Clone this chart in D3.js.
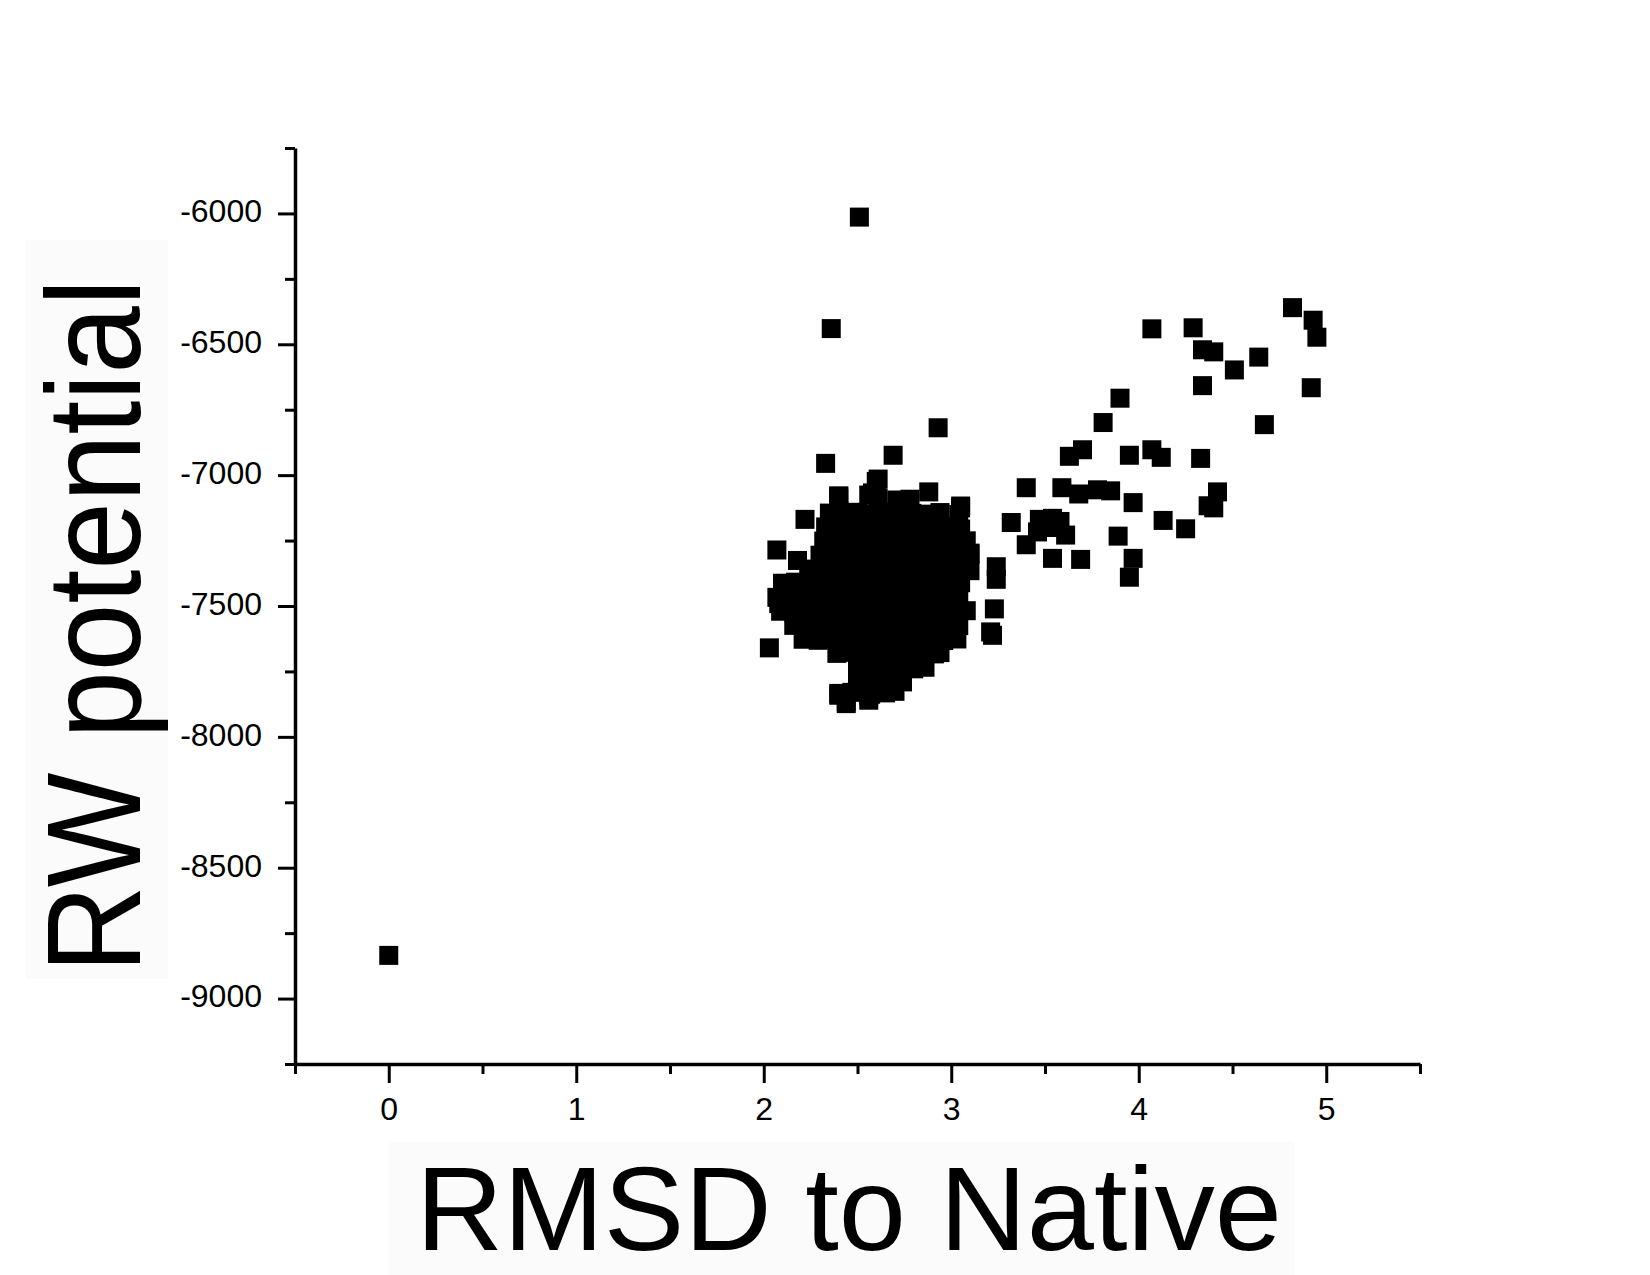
<!DOCTYPE html>
<html>
<head>
<meta charset="utf-8">
<script src="https://cdn.jsdelivr.net/npm/d3@7"></script>
<style>
  html, body { margin: 0; padding: 0; background: #fff; }
  svg { display: block; }
</style>
</head>
<body>
<svg id="chart" width="1650" height="1275"></svg>
<script>
// ---- Data ----
const xTicksMajor = [0, 1, 2, 3, 4, 5];
const xTicksMinor = [-0.5, 0.5, 1.5, 2.5, 3.5, 4.5, 5.5];
const yTicksMajor = [-9000, -8500, -8000, -7500, -7000, -6500, -6000];
const yTicksMinor = [-9250, -8750, -8250, -7750, -7250, -6750, -6250, -5750];
const xTitle = "RMSD to Native";
const yTitle = "RW potential";

// native structure
const nativeRmsd = [0.0];
const nativeRw = [-8835];

// outliers and spread decoys
const spreadRmsd = [2.51, 2.36, 2.93, 4.82, 4.93, 4.95, 4.92, 4.29, 4.07, 4.34, 4.40, 4.51, 4.64, 4.34, 4.67,
  3.90, 3.81, 3.70, 3.63, 3.95, 4.07, 4.12, 4.33, 3.40, 3.59, 3.68, 3.78, 3.85, 3.97, 4.42, 4.37, 4.40,
  3.32, 3.47, 3.54, 3.58, 3.46, 3.61, 3.40, 4.13, 4.25, 3.89, 3.54, 3.69, 3.97, 3.95, 3.24, 3.24, 3.23,
  3.21, 3.22, 3.52];
const spreadRw = [-6014, -6440, -6819, -6360, -6408, -6473, -6666, -6437, -6441, -6521, -6529, -6598, -6549, -6658, -6807,
  -6706, -6799, -6903, -6928, -6924, -6903, -6932, -6936, -7048, -7048, -7072, -7056, -7060, -7105, -7064, -7117, -7125,
  -7181, -7169, -7165, -7177, -7217, -7229, -7266, -7173, -7205, -7233, -7318, -7322, -7318, -7390, -7350, -7398, -7511,
  -7599, -7612, -7200];

// cluster edge decoys
const edgeRmsd = [2.33, 2.69, 2.60, 2.56, 2.40, 2.40, 2.22, 2.07, 2.18, 2.10, 2.08, 2.03, 2.88, 3.05, 3.10,
  2.40, 2.44, 2.56, 2.61, 2.58, 2.40];
const edgeRw = [-6955, -6924, -7024, -7076, -7080, -7137, -7169, -7286, -7326, -7447, -7491, -7660, -7064, -7125, -7298,
  -7841, -7873, -7841, -7015, -7068, -7080];

// dense cluster decoys
const clusterRmsd = [
  2.40, 2.61, 2.71, 2.78, 3.05,
  2.35, 2.42, 2.50, 2.57, 2.64, 2.72, 2.79, 2.87, 2.94, 3.04,
  2.33, 2.40, 2.48, 2.55, 2.63, 2.70, 2.78, 2.85, 2.93, 3.00, 3.05,
  2.32, 2.40, 2.47, 2.55, 2.62, 2.70, 2.77, 2.85, 2.92, 3.00, 3.08,
  2.30, 2.37, 2.45, 2.52, 2.60, 2.67, 2.75, 2.82, 2.90, 2.97, 3.04, 3.10,
  2.24, 2.31, 2.39, 2.46, 2.54, 2.61, 2.69, 2.76, 2.84, 2.91, 2.99, 3.06, 3.10,
  2.10, 2.17, 2.25, 2.32, 2.40, 2.47, 2.55, 2.62, 2.70, 2.77, 2.85, 2.92, 3.00, 3.05,
  2.07, 2.14, 2.22, 2.29, 2.37, 2.44, 2.52, 2.59, 2.67, 2.74, 2.82, 2.89, 2.97, 3.04,
  2.09, 2.16, 2.24, 2.31, 2.39, 2.46, 2.54, 2.61, 2.69, 2.76, 2.84, 2.91, 2.99, 3.08,
  2.16, 2.23, 2.31, 2.38, 2.46, 2.53, 2.61, 2.68, 2.76, 2.83, 2.91, 2.98, 3.04,
  2.21, 2.29, 2.36, 2.44, 2.51, 2.59, 2.66, 2.74, 2.81, 2.89, 2.96, 3.03,
  2.39, 2.46, 2.54, 2.61, 2.69, 2.76, 2.84, 2.91, 2.94,
  2.50, 2.57, 2.65, 2.72, 2.80, 2.86,
  2.50, 2.58, 2.66, 2.74,
  2.40, 2.47, 2.57, 2.65, 2.70,
  2.44, 2.56
];
const clusterRw = [
  -7091, -7088, -7095, -7092, -7118,
  -7145, -7150, -7142, -7148, -7140, -7152, -7146, -7149, -7143, -7151,
  -7198, -7203, -7195, -7200, -7196, -7204, -7199, -7193, -7201, -7197, -7206,
  -7252, -7248, -7255, -7250, -7257, -7251, -7246, -7253, -7249, -7256, -7251,
  -7306, -7302, -7309, -7304, -7311, -7305, -7300, -7308, -7303, -7310, -7306, -7302,
  -7359, -7364, -7356, -7361, -7358, -7363, -7355, -7360, -7357, -7362, -7359, -7354, -7365,
  -7413, -7409, -7416, -7411, -7418, -7412, -7408, -7415, -7410, -7417, -7413, -7407, -7414, -7411,
  -7467, -7463, -7470, -7465, -7472, -7466, -7461, -7469, -7464, -7471, -7466, -7460, -7468, -7465,
  -7520, -7524, -7517, -7522, -7519, -7526, -7518, -7523, -7516, -7521, -7525, -7519, -7522, -7518,
  -7574, -7570, -7577, -7572, -7579, -7573, -7568, -7576, -7571, -7578, -7574, -7569, -7575,
  -7627, -7631, -7624, -7629, -7626, -7633, -7625, -7630, -7623, -7628, -7632, -7626,
  -7681, -7677, -7684, -7679, -7686, -7680, -7675, -7683, -7678,
  -7735, -7731, -7738, -7733, -7740, -7734,
  -7788, -7792, -7785, -7790,
  -7834, -7830, -7837, -7832, -7826,
  -7865, -7860
];

// ---- Chart ----
const svg = d3.select("#chart");
const font = "'Liberation Sans', Arial, Helvetica, sans-serif";

// faint label backgrounds
svg.append("rect").attr("x", 26).attr("y", 240).attr("width", 142).attr("height", 739).attr("fill", "#fbfbfb");
svg.append("rect").attr("x", 389).attr("y", 1142).attr("width", 905).attr("height", 133).attr("fill", "#fbfbfb");

const x = d3.scaleLinear().domain([-0.5, 5.5]).range([295, 1420]);
const y = d3.scaleLinear().domain([-9250, -5750]).range([1064, 148]);

const points = [];
[[nativeRmsd, nativeRw], [spreadRmsd, spreadRw], [edgeRmsd, edgeRw], [clusterRmsd, clusterRw]].forEach(([xs, ys]) => {
  xs.forEach((v, i) => points.push([v, ys[i]]));
});

const S = 19;
svg.append("g").selectAll("rect").data(points).join("rect")
  .attr("x", d => x(d[0]) - S / 2)
  .attr("y", d => y(d[1]) - S / 2)
  .attr("width", S).attr("height", S)
  .attr("fill", "#000");

// axes
function styleAxis(g, fs) {
  g.selectAll(".domain").attr("stroke", "#000").attr("stroke-width", 3.5);
  g.selectAll(".tick line").attr("stroke", "#000").attr("stroke-width", 3);
  g.selectAll(".tick text").attr("fill", "#000").style("font-family", font).style("font-size", fs + "px");
}

const xMinor = svg.append("g").attr("transform", "translate(0,1064)")
  .call(d3.axisBottom(x).tickValues(xTicksMinor).tickSize(10).tickSizeOuter(0).tickFormat(""));
styleAxis(xMinor, 32);
xMinor.select(".domain").remove();

const yMinor = svg.append("g").attr("transform", "translate(295,0)")
  .call(d3.axisLeft(y).tickValues(yTicksMinor).tickSize(10).tickSizeOuter(0).tickFormat(""));
styleAxis(yMinor, 32);
yMinor.select(".domain").remove();

const xAxis = svg.append("g").attr("transform", "translate(0,1064)")
  .call(d3.axisBottom(x).tickValues(xTicksMajor).tickSize(19).tickSizeOuter(0).tickPadding(14).tickFormat(d => String(d)));
styleAxis(xAxis, 32);

const yAxis = svg.append("g").attr("transform", "translate(295,0)")
  .call(d3.axisLeft(y).tickValues(yTicksMajor).tickSize(17).tickSizeOuter(0).tickPadding(16).tickFormat(d => String(d)));
styleAxis(yAxis, 32);
yAxis.selectAll(".tick text").attr("dy", "0.26em");

// titles
svg.append("text")
  .attr("transform", "translate(140,626) rotate(-90)")
  .attr("text-anchor", "middle")
  .attr("textLength", 694).attr("lengthAdjust", "spacingAndGlyphs")
  .style("font-family", font).style("font-size", "134px").attr("fill", "#000")
  .text(yTitle);

svg.append("text")
  .attr("x", 849).attr("y", 1250)
  .attr("text-anchor", "middle")
  .attr("textLength", 866).attr("lengthAdjust", "spacingAndGlyphs")
  .style("font-family", font).style("font-size", "118px").attr("fill", "#000")
  .text(xTitle);
</script>
</body>
</html>
